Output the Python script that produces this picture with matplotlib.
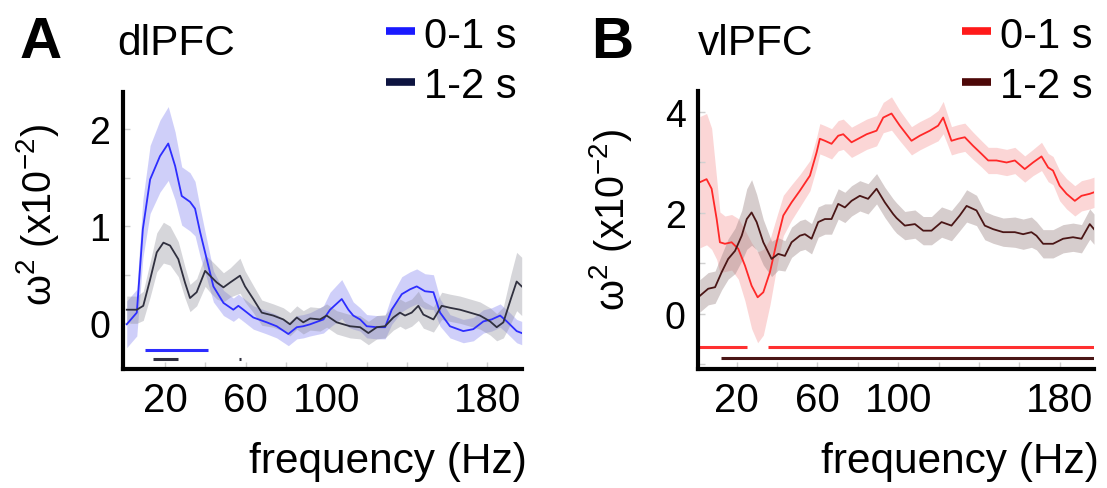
import numpy as np
import matplotlib
matplotlib.use("Agg")
import matplotlib.pyplot as plt
from matplotlib.lines import Line2D

plt.rcParams['font.family'] = ['Liberation Sans', 'DejaVu Sans']
plt.rcParams['mathtext.fontset'] = 'custom'
plt.rcParams['mathtext.rm'] = 'Liberation Sans'
plt.rcParams['mathtext.it'] = 'Liberation Sans:italic'
plt.rcParams['mathtext.default'] = 'regular'

# ---- dlPFC, effect size per frequency (x1e-2) ----
dl_f_early = [1, 6, 9, 12.6, 17.5, 21.6, 25, 28.3, 32.4, 34.9, 37.4, 40.7, 44, 49, 53.9, 56.4,
              58.9, 63.8, 70.5, 75.4, 81.2, 85.4, 88.6, 92, 98.6, 101.9, 107.7, 111, 113.4,
              116.8, 120.1, 125, 129.2, 132.5, 137.5, 141.6, 144.9, 149, 153.2, 156.5, 161.4,
              168, 173, 178, 182.1, 186.3, 189.6, 194.5, 197]
dl_early = [-0.01, 0.11, 0.97, 1.48, 1.72, 1.85, 1.62, 1.31, 1.25, 1.18, 0.94, 0.66, 0.38, 0.21,
            0.14, 0.18, 0.14, 0.06, 0.01, -0.03, -0.11, -0.04, -0.03, -0.01, 0.04, 0.14, 0.25,
            0.14, 0.08, 0.04, -0.03, -0.04, -0.04, 0.14, 0.30, 0.35, 0.38, 0.33, 0.32, 0.11,
            -0.03, -0.08, -0.06, 0.02, 0.04, 0.08, 0.02, -0.08, -0.10]
dl_early_sem = [0.24, 0.24, 0.3, 0.35, 0.37, 0.38, 0.35, 0.3, 0.3, 0.28, 0.25, 0.2, 0.16, 0.13,
                0.12, 0.12, 0.12, 0.12, 0.12, 0.12, 0.12, 0.12, 0.12, 0.12, 0.14, 0.18, 0.2,
                0.18, 0.14, 0.12, 0.12, 0.12, 0.12, 0.15, 0.18, 0.18, 0.18, 0.18, 0.18, 0.14,
                0.12, 0.12, 0.12, 0.12, 0.12, 0.12, 0.12, 0.12, 0.12]

dl_f_late = [1, 6, 9.2, 12.6, 15.9, 19.2, 22.5, 26.6, 29.9, 32.4, 35.7, 39.9, 42.3, 45.7, 49,
             52.3, 57.2, 59.7, 63.8, 68, 73.7, 78.7, 82, 85.4, 88.6, 92, 96.9, 100.2, 105.2,
             111.8, 116.8, 120.9, 125.1, 129.2, 133.3, 136.6, 139.1, 142.4, 145.7, 148.2,
             153.2, 157.3, 161.4, 166.4, 171.4, 176.3, 181.3, 184.6, 187.9, 191.6, 194.5, 197]
dl_late = [0.14, 0.14, 0.18, 0.45, 0.73, 0.83, 0.80, 0.66, 0.42, 0.26, 0.32, 0.54, 0.49, 0.42,
           0.37, 0.42, 0.49, 0.38, 0.25, 0.11, 0.08, 0.04, -0.01, 0.06, 0.01, 0.05, 0.04, 0.08,
           0.01, -0.03, -0.04, -0.10, -0.04, -0.03, 0.06, 0.11, 0.08, 0.11, 0.18, 0.09, 0.04,
           0.18, 0.16, 0.14, 0.11, 0.08, 0.02, -0.04, 0.01, 0.25, 0.43, 0.38]
dl_late_sem = [0.14, 0.14, 0.15, 0.18, 0.2, 0.21, 0.2, 0.18, 0.16, 0.14, 0.14, 0.16, 0.17,
               0.17, 0.15, 0.15, 0.18, 0.16, 0.14, 0.13, 0.12, 0.12, 0.12, 0.12, 0.12, 0.12,
               0.12, 0.12, 0.12, 0.12, 0.12, 0.12, 0.12, 0.12, 0.13, 0.14, 0.14, 0.14, 0.15,
               0.14, 0.13, 0.14, 0.14, 0.14, 0.14, 0.14, 0.14, 0.14, 0.16, 0.25, 0.3, 0.3]

# ---- vlPFC ----
vl_f_early = [1.8, 5.1, 7.6, 10.1, 11.7, 14.2, 17.5, 20.8, 24.1, 27.4, 30.4, 33.2, 36.5, 39.8,
              43.1, 47.2, 51.3, 56.3, 59.6, 61.2, 63.7, 67, 70.3, 72.8, 76.9, 80.2, 84.4, 89.3,
              92.6, 96.7, 100.8, 106.6, 110.7, 115.7, 119.8, 122.3, 124, 126.4, 129.7, 133,
              137.1, 141.3, 144.6, 148.7, 153.7, 157.8, 162.7, 166.8, 171, 174.3, 176.7, 180,
              183.4, 187.5, 190.8, 194.9, 197]
vl_early = [2.61, 2.67, 2.48, 1.88, 1.42, 1.39, 1.42, 1.29, 0.96, 0.56, 0.33, 0.43, 0.83, 1.42,
            1.95, 2.21, 2.44, 2.74, 3.20, 3.47, 3.43, 3.37, 3.53, 3.56, 3.40, 3.47, 3.56, 3.63,
            3.89, 3.97, 3.73, 3.43, 3.53, 3.63, 3.73, 3.89, 3.70, 3.43, 3.47, 3.50, 3.33, 3.17,
            3.04, 3.04, 3.00, 3.04, 2.87, 3.00, 3.12, 2.90, 2.84, 2.54, 2.38, 2.24, 2.34, 2.38,
            2.41]
vl_early_sem = [1.3, 1.3, 1.2, 0.8, 0.6, 0.55, 0.55, 0.6, 0.7, 0.85, 0.9, 0.85, 0.65, 0.5,
                0.4, 0.35, 0.32, 0.3, 0.3, 0.3, 0.3, 0.3, 0.3, 0.3, 0.3, 0.3, 0.3, 0.3, 0.3,
                0.33, 0.3, 0.28, 0.28, 0.28, 0.3, 0.32, 0.3, 0.28, 0.28, 0.28, 0.27, 0.26, 0.26,
                0.26, 0.26, 0.26, 0.26, 0.26, 0.28, 0.28, 0.28, 0.3, 0.3, 0.3, 0.3, 0.3, 0.3]

vl_f_late = [1.8, 5.9, 9.3, 12.6, 15.8, 19.2, 22.5, 25, 27.4, 29.9, 33.2, 37.3, 40.6, 43.9,
             47.2, 51.3, 53.8, 57.1, 60.4, 63.7, 67, 70.3, 73.6, 76.9, 81, 85.1, 89.3, 93.4,
             97.5, 99.2, 103.3, 108.3, 112.4, 116.5, 121.5, 126.4, 130.5, 133.9, 138.8, 142.9,
             147, 152, 157.8, 161.9, 166, 168.5, 171.8, 176.7, 181.7, 186.6, 190.8, 194.9, 197]
vl_late = [0.36, 0.50, 0.53, 0.83, 1.09, 1.25, 1.55, 1.88, 2.01, 1.82, 1.42, 1.09, 1.19, 1.15,
           1.42, 1.55, 1.58, 1.49, 1.82, 1.88, 1.88, 2.18, 2.11, 2.24, 2.34, 2.28, 2.48, 2.21,
           1.98, 1.90, 1.75, 1.78, 1.65, 1.65, 1.82, 1.75, 1.95, 2.14, 2.05, 1.75, 1.68, 1.62,
           1.62, 1.58, 1.62, 1.55, 1.39, 1.39, 1.49, 1.52, 1.49, 1.78, 1.68]
vl_late_sem = [0.32, 0.32, 0.32, 0.35, 0.4, 0.45, 0.5, 0.6, 0.65, 0.55, 0.45, 0.35, 0.32, 0.3,
               0.3, 0.3, 0.3, 0.3, 0.3, 0.3, 0.3, 0.3, 0.3, 0.3, 0.3, 0.3, 0.3, 0.3, 0.3, 0.3,
               0.28, 0.28, 0.28, 0.28, 0.3, 0.3, 0.3, 0.32, 0.3, 0.28, 0.28, 0.28, 0.3, 0.3,
               0.3, 0.28, 0.28, 0.28, 0.28, 0.28, 0.28, 0.3, 0.3]

# significant frequency ranges (Hz)
dl_sig_early = [(10, 41.5)]
dl_sig_late = [(14, 26.6), (56.6, 57.8)]
vl_sig_early = [(1, 25), (35.3, 197)]
vl_sig_late = [(12.2, 197)]

labels = ['0-1 s', '1-2 s']
xticks_major = [20, 60, 100, 180]

W, H = 1107, 489
fig = plt.figure(figsize=(W / 100, H / 100), dpi=100)


def px(x, y):
    return x / W, 1 - y / H


def make_axes(x0, x1, y_top, y_bot):
    return fig.add_axes([x0 / W, 1 - y_bot / H, (x1 - x0) / W, (y_bot - y_top) / H])


def draw_panel(ax, series, sig, sig_y, ylim, yminor, yticks, colors, bands, barcolors, alphas):
    for (f, m, s), c, bc, a in zip(series, colors, bands, alphas):
        f, m, s = np.array(f), np.array(m), np.array(s)
        ax.fill_between(f, m - s, m + s, color=bc, alpha=a, lw=0)
        ax.plot(f, m, color=c, lw=1.3)
    for ranges, yy, c in zip(sig, sig_y, barcolors):
        for a0, a1 in ranges:
            ax.hlines(yy, a0, a1, color=c, lw=2.2)
    ax.set_xlim(-1, 197)
    ax.set_ylim(*ylim)
    for side in ['top', 'right']:
        ax.spines[side].set_visible(False)
    for side in ['left', 'bottom']:
        ax.spines[side].set_linewidth(3)
    ax.set_xticks(np.arange(20, 181, 20), minor=True)
    ax.set_xticks(xticks_major)
    ax.set_xticklabels([str(v) for v in xticks_major])
    ax.set_yticks(yminor, minor=True)
    ax.set_yticks(yticks)
    ax.set_yticklabels([str(v) for v in yticks])
    ax.tick_params(which='both', direction='in', length=5, width=1, color='#d0d0d0')
    ax.tick_params(axis='x', labelsize=29, pad=9)
    ax.tick_params(axis='y', labelsize=27, pad=9)


# panel A
axA = make_axes(122.7, 521.7, 93, 370)
draw_panel(axA,
           [(dl_f_early, dl_early, dl_early_sem), (dl_f_late, dl_late, dl_late_sem)],
           [dl_sig_early, dl_sig_late], [-0.27, -0.37], (-0.47, 2.38),
           [0, 0.5, 1, 1.5, 2], [0, 1, 2],
           ['#2d2dff', '#30303f'], ['#7878f0', '#8a8a96'], ['#2d2dff', '#30303f'],
           [0.35, 0.35])

# panel B
axB = make_axes(698.3, 1094, 92.3, 370)
draw_panel(axB,
           [(vl_f_early, vl_early, vl_early_sem), (vl_f_late, vl_late, vl_late_sem)],
           [vl_sig_early, vl_sig_late], [-0.66, -0.88], (-1.09, 4.41),
           [-1, 0, 1, 2, 3, 4], [0, 2, 4],
           ['#ff2828', '#4a1616'], ['#f58a8a', '#9a8282'], ['#ff3030', '#4a1616'],
           [0.35, 0.4])
axB.set_xlim(1, 197)

# text: panel letters, titles, axis labels
for letter, lx, title, tx in [('A', 20, 'dlPFC', 117), ('B', 591, 'vlPFC', 698)]:
    fig.text(*px(lx, 58), letter, fontsize=42, fontweight='bold', va='baseline')
    fig.text(*px(tx, 55), title, fontsize=30.5, va='baseline')

ylab = 'ω$^2$ (x10$^{-2}$)'
fig.text(*px(38, 215), ylab, fontsize=28.5, rotation=90, ha='center', va='center')
fig.text(*px(610, 220), ylab, fontsize=28.5, rotation=90, ha='center', va='center')
fig.text(*px(527, 473), 'frequency (Hz)', fontsize=30.5, ha='right', va='baseline')
fig.text(*px(1099, 473), 'frequency (Hz)', fontsize=30.5, ha='right', va='baseline')

# legends
for lx, cols in [(386, ['#1a1aff', '#0d1440']), (962, ['#ff1a1a', '#4d0808'])]:
    for row, (lab, c) in enumerate(zip(labels, cols)):
        yc = 32 + row * 51
        fig.add_artist(Line2D([lx / W, (lx + 29) / W], [1 - yc / H] * 2, color=c, lw=5.5,
                              solid_capstyle='butt', transform=fig.transFigure))
        fig.text(*px(lx + 38, yc), lab, fontsize=30, va='center_baseline')

fig.savefig('out.png', dpi=100)
